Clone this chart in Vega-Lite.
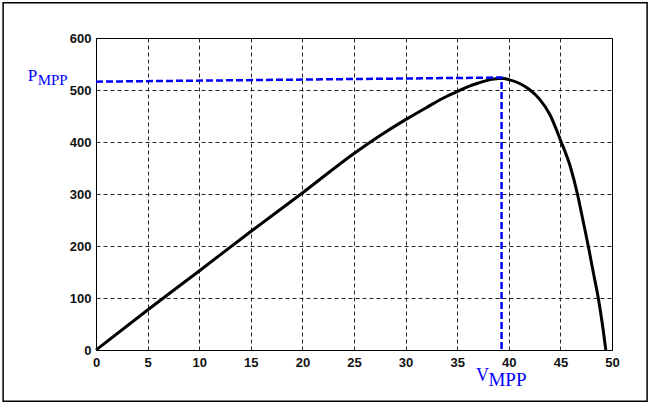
{
  "$schema": "https://vega.github.io/schema/vega-lite/v6.json",
  "width": 516,
  "height": 312,
  "autosize": {"type": "none"},
  "padding": {"left": 96, "top": 38, "right": 39, "bottom": 55},
  "background": "white",
  "config": {
    "view": {"stroke": "#000", "strokeWidth": 1},
    "scale": {"continuousPadding": 0},
    "axis": {
      "grid": true, "gridColor": "#000", "gridDash": [4, 3], "gridWidth": 1, "gridOpacity": 0.85,
      "domain": false, "ticks": false, "tickSize": 0, "labelFlush": false, "labelOverlap": false,
      "labelFont": "Liberation Sans", "labelFontSize": 13, "labelFontWeight": "bold", "labelColor": "#111",
      "title": null
    }
  },
  "datasets": {
    "pv": [
      {"V": 0, "P": 0}, {"V": 5, "P": 77}, {"V": 10, "P": 152}, {"V": 15, "P": 228},
      {"V": 20, "P": 302}, {"V": 25, "P": 378}, {"V": 27.5, "P": 412}, {"V": 30, "P": 443},
      {"V": 32, "P": 466}, {"V": 34, "P": 488}, {"V": 35, "P": 497}, {"V": 36, "P": 506},
      {"V": 37, "P": 513}, {"V": 38, "P": 519}, {"V": 39, "P": 522}, {"V": 39.5, "P": 522},
      {"V": 40, "P": 520}, {"V": 41, "P": 513}, {"V": 42, "P": 501}, {"V": 43, "P": 482},
      {"V": 44, "P": 452}, {"V": 45, "P": 404}, {"V": 46.0, "P": 350},
      {"V": 46.65, "P": 300}, {"V": 47.2, "P": 248}, {"V": 47.7, "P": 200}, {"V": 48.2, "P": 148},
      {"V": 48.67, "P": 100}, {"V": 49.05, "P": 52}, {"V": 49.4, "P": 0}
    ],
    "mpp": [
      {"step": 1, "V": 0, "P": 516},
      {"step": 2, "V": 39.3, "P": 524},
      {"step": 3, "V": 39.3, "P": 0}
    ],
    "one": [{}]
  },
  "layer": [
    {
      "data": {"name": "pv"},
      "mark": {"type": "line", "color": "#000", "strokeWidth": 3, "interpolate": "monotone"},
      "encoding": {
        "x": {"field": "V", "type": "quantitative", "scale": {"domain": [0, 50], "nice": false, "zero": false, "padding": 0}, "axis": {"values": [0, 5, 10, 15, 20, 25, 30, 35, 40, 45, 50], "labelPadding": 6}},
        "y": {"field": "P", "type": "quantitative", "scale": {"domain": [0, 600], "nice": false, "zero": false, "padding": 0}, "axis": {"values": [0, 100, 200, 300, 400, 500, 600], "labelPadding": 5}}
      }
    },
    {
      "data": {"name": "mpp"},
      "mark": {"type": "line", "color": "#0000ff", "strokeWidth": 2.5, "strokeDash": [7, 3]},
      "encoding": {
        "x": {"field": "V", "type": "quantitative"},
        "y": {"field": "P", "type": "quantitative"},
        "order": {"field": "step", "type": "quantitative"}
      }
    },
    {
      "data": {"name": "one"},
      "mark": {"type": "rect", "fill": null, "stroke": "#000", "strokeWidth": 1.5, "clip": false},
      "encoding": {
        "x": {"datum": -9.0, "type": "quantitative"},
        "x2": {"datum": 53.4},
        "y": {"datum": 667.8, "type": "quantitative"},
        "y2": {"datum": -98.5}
      }
    },
    {
      "data": {"name": "one"},
      "mark": {"type": "text", "text": "P", "font": "Liberation Serif", "fontSize": 17, "color": "#0000ff", "align": "left", "baseline": "alphabetic", "clip": false},
      "encoding": {"x": {"datum": -6.62, "type": "quantitative"}, "y": {"datum": 518, "type": "quantitative"}}
    },
    {
      "data": {"name": "one"},
      "mark": {"type": "text", "text": "MPP", "font": "Liberation Serif", "fontSize": 15, "color": "#0000ff", "align": "left", "baseline": "alphabetic", "clip": false},
      "encoding": {"x": {"datum": -5.65, "type": "quantitative"}, "y": {"datum": 510, "type": "quantitative"}}
    },
    {
      "data": {"name": "one"},
      "mark": {"type": "text", "text": "V", "font": "Liberation Serif", "fontSize": 18, "color": "#0000ff", "align": "left", "baseline": "alphabetic", "clip": false},
      "encoding": {"x": {"datum": 36.82, "type": "quantitative"}, "y": {"datum": -60, "type": "quantitative"}}
    },
    {
      "data": {"name": "one"},
      "mark": {"type": "text", "text": "MPP", "font": "Liberation Serif", "fontSize": 19, "color": "#0000ff", "align": "left", "baseline": "alphabetic", "clip": false},
      "encoding": {"x": {"datum": 38.03, "type": "quantitative"}, "y": {"datum": -69.5, "type": "quantitative"}}
    }
  ]
}
